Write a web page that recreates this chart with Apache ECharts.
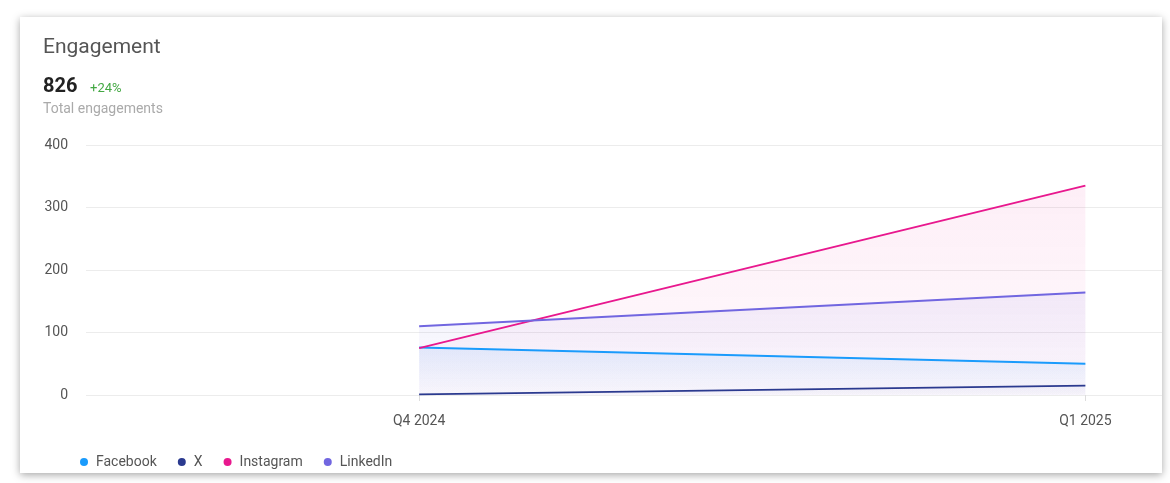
<!DOCTYPE html>
<html>
<head>
<meta charset="utf-8">
<script src="https://cdn.jsdelivr.net/npm/echarts@6/dist/echarts.min.js"></script>
<style>
  html, body { margin: 0; padding: 0; background: #ffffff; width: 1170px; height: 483px; overflow: hidden; }
  #card { position: absolute; left: 20px; top: 17px; width: 1142px; height: 456px; background: #fff;
          box-shadow: 0 2px 8px rgba(0,0,0,0.35); }
  #chart { width: 1142px; height: 456px; }
</style>
</head>
<body>
<div id="card"><div id="chart"></div></div>
<script>
const categories = ['Q4 2024', 'Q1 2025'];
const facebook = [76, 50];
const xSeries = [1, 15];
const instagram = [75, 335];
const linkedin = [110, 164];
const yTicks = [0, 100, 200, 300, 400];

const colors = { Facebook: '#1a9bfc', X: '#2b3a8f', Instagram: '#e8188e', LinkedIn: '#7166e0' };
const fills = {
  Facebook: ['rgba(26,155,252,0.15)', 'rgba(26,155,252,0.02)'],
  X: ['rgba(43,58,143,0.05)', 'rgba(43,58,143,0.01)'],
  Instagram: ['rgba(232,24,142,0.10)', 'rgba(232,24,142,0.03)'],
  LinkedIn: ['rgba(113,102,224,0.12)', 'rgba(113,102,224,0.03)']
};

function mk(name, vals) {
  return {
    name: name, type: 'line', symbol: 'none', smooth: false,
    data: vals.map((v, i) => [i, v]),
    lineStyle: { width: 2, color: colors[name] },
    itemStyle: { color: colors[name] },
    areaStyle: { color: new echarts.graphic.LinearGradient(0, 0, 0, 1, [
      { offset: 0, color: fills[name][0] }, { offset: 1, color: fills[name][1] }]) }
  };
}

const chart = echarts.init(document.getElementById('chart'));
chart.setOption({
  animation: false,
  textStyle: { fontFamily: 'Roboto, sans-serif' },
  title: [
    { text: 'Engagement', left: 18, top: 15, textStyle: { fontSize: 21, fontWeight: 'normal', color: '#555' } },
    { text: '826', left: 18, top: 55, textStyle: { fontSize: 20, fontWeight: 'bold', color: '#222' } },
    { text: '+24%', left: 65, top: 60, textStyle: { fontSize: 13, fontWeight: 'normal', color: '#43a843' } },
    { text: 'Total engagements', left: 18, top: 80, textStyle: { fontSize: 14, fontWeight: 'normal', color: '#aaa' } }
  ],
  legend: {
    bottom: -1, left: 55, icon: 'circle', itemWidth: 14, itemHeight: 8, itemGap: 21,
    textStyle: { color: '#555', fontSize: 14 },
    data: ['Facebook', 'X', 'Instagram', 'LinkedIn']
  },
  grid: { left: 66, right: 0, top: 128, bottom: 78 },
  xAxis: {
    type: 'value', min: -0.5, max: 1.115,
    axisLine: { show: false },
    axisTick: { show: true, customValues: [0, 1], length: 6, lineStyle: { color: '#ddd' } },
    axisLabel: { customValues: [0, 1], formatter: v => categories[Math.round(v)] || '', color: '#555', fontSize: 14, margin: 19 },
    splitLine: { show: false }
  },
  yAxis: {
    type: 'value', min: yTicks[0], max: yTicks[yTicks.length - 1], interval: 100,
    axisLine: { show: false }, axisTick: { show: false },
    axisLabel: { color: '#555', fontSize: 14, margin: 18 },
    splitLine: { lineStyle: { color: '#ececec' } }
  },
  series: [mk('Facebook', facebook), mk('X', xSeries), mk('Instagram', instagram), mk('LinkedIn', linkedin)]
});
</script>
</body>
</html>
